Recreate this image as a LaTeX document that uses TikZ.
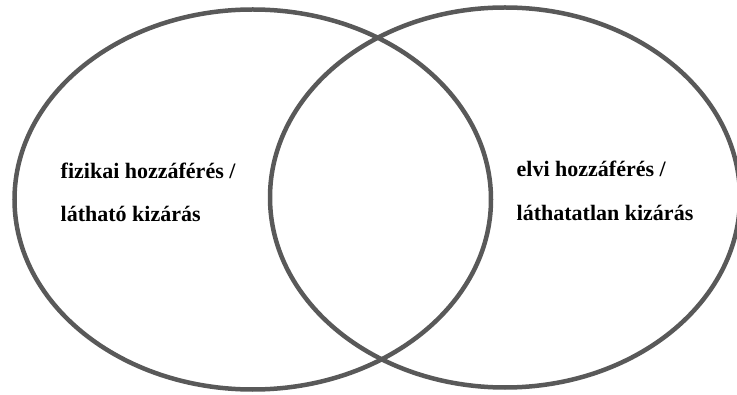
\documentclass[tikz,border=0pt]{standalone}
\usepackage{fontspec}
\setmainfont{Liberation Serif}
\definecolor{ringgray}{RGB}{89,89,89}
\begin{document}
\begin{tikzpicture}[x=1pt,y=1pt,
  ring/.style={draw=ringgray, line width=4.5pt},
  lbl/.style={anchor=base west, inner sep=0pt, font=\fontsize{22}{26}\selectfont\bfseries}]
\useasboundingbox (0,0) rectangle (737,394);
\draw[ring] (252.75,194.5) ellipse [x radius=238.25, y radius=190];
\draw[ring] (505,196.5) ellipse [x radius=235, y radius=190];
\node[lbl] (l1) at (60.5,215.7) {fizikai hozzáférés /};
\node[lbl] (l2) at (60.5,172.5) {látható kizárás};
\node[lbl] (r1) at (516.5,217.3) {elvi hozzáférés /};
\node[lbl] (r2) at (516.5,173.5) {láthatatlan kizárás};
\end{tikzpicture}
\end{document}
